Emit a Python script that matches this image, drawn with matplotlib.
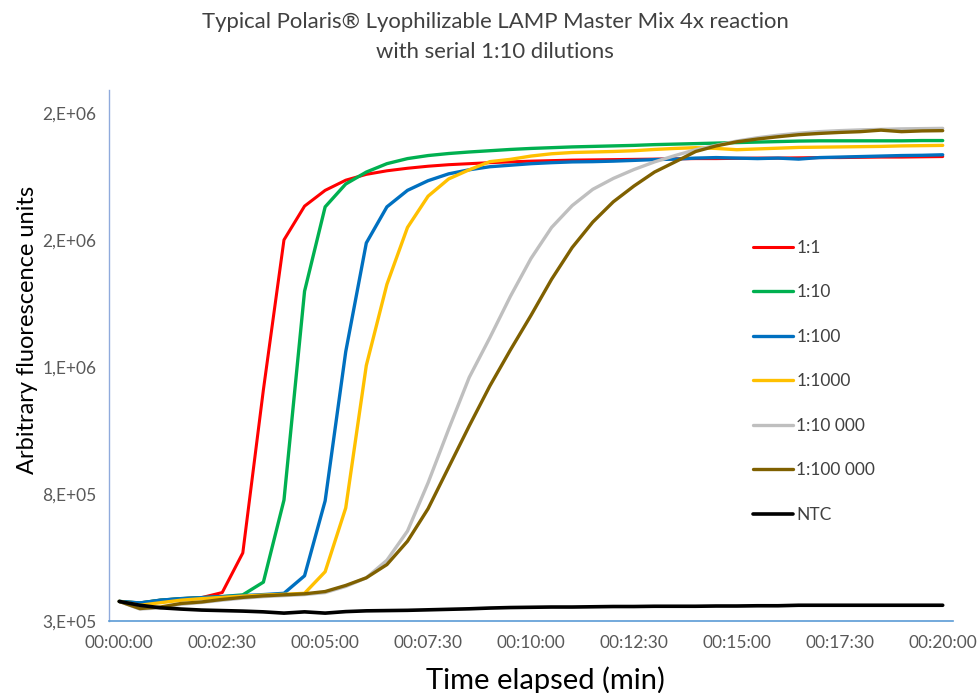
import numpy as np
import matplotlib
matplotlib.use("Agg")
import matplotlib.pyplot as plt

plt.rcParams['font.family'] = ['Lato', 'DejaVu Sans']

# time in minutes (readings every 30 s)
time_min = np.arange(41) * 0.5

series_labels = ["1:1", "1:10", "1:100", "1:1000", "1:10 000", "1:100 000", "NTC"]
series_colors = ["#FF0000", "#00B050", "#0070C0", "#FFC000", "#BFBFBF", "#7F6000", "#000000"]

# fluorescence values, in thousands
red = [377, 371, 382, 388, 392, 412, 568, 1210, 1800, 1933, 1995, 2035, 2058, 2072, 2082,
       2090, 2096, 2100, 2104, 2107, 2110, 2112, 2114, 2115, 2116, 2117, 2118, 2119, 2120,
       2120, 2121, 2122, 2122, 2123, 2124, 2124, 2125, 2126, 2126, 2127, 2128]
green = [377, 371, 382, 388, 392, 396, 403, 453, 776, 1598, 1930, 2020, 2067, 2100, 2120,
         2132, 2140, 2146, 2151, 2156, 2160, 2163, 2166, 2168, 2170, 2172, 2175, 2177, 2179,
         2181, 2183, 2185, 2187, 2189, 2190, 2190, 2190, 2190, 2190, 2191, 2191]
blue = [377, 371, 382, 388, 392, 396, 400, 404, 409, 478, 773, 1360, 1788, 1930, 1995,
        2033, 2060, 2076, 2088, 2094, 2100, 2104, 2107, 2108, 2110, 2113, 2116, 2118, 2122,
        2124, 2122, 2120, 2122, 2118, 2124, 2126, 2128, 2130, 2132, 2133, 2135]
yellow = [377, 362, 372, 382, 388, 393, 398, 402, 405, 409, 494, 745, 1306, 1625, 1849,
          1972, 2040, 2076, 2108, 2117, 2130, 2139, 2144, 2146, 2148, 2151, 2156, 2160, 2163,
          2160, 2155, 2158, 2161, 2164, 2165, 2166, 2167, 2168, 2170, 2171, 2172]
gray = [377, 347, 352, 366, 373, 382, 390, 396, 400, 404, 412, 436, 470, 539, 654,
        844, 1055, 1259, 1415, 1578, 1727, 1849, 1935, 1999, 2042, 2077, 2107, 2132, 2155,
        2172, 2189, 2202, 2212, 2220, 2226, 2230, 2233, 2235, 2237, 2238, 2239]
brown = [377, 349, 355, 369, 375, 385, 393, 399, 403, 407, 416, 440, 470, 522, 614,
         742, 905, 1068, 1225, 1367, 1503, 1645, 1770, 1870, 1950, 2012, 2067, 2107, 2148,
         2170, 2186, 2197, 2206, 2214, 2219, 2223, 2226, 2232, 2226, 2229, 2230]
ntc = [377, 362, 352, 347, 343, 341, 339, 336, 331, 336, 331, 337, 340, 341, 342,
       344, 346, 348, 351, 353, 354, 355, 355, 356, 357, 357, 358, 358, 358, 359,
       359, 360, 360, 362, 362, 362, 362, 362, 362, 362, 362]

y_ticks = [300000, 800000, 1300000, 1800000, 2300000]
y_tick_labels = ["3,E+05", "8,E+05", "1,E+06", "2,E+06", "2,E+06"]
x_ticks = [0, 2.5, 5, 7.5, 10, 12.5, 15, 17.5, 20]
x_tick_labels = ["00:00:00", "00:02:30", "00:05:00", "00:07:30", "00:10:00",
                 "00:12:30", "00:15:00", "00:17:30", "00:20:00"]

W, H = 979, 693
fig = plt.figure(figsize=(W/100, H/100), dpi=100)
ax = fig.add_axes([109/W, 1 - 621/H, (953-109)/W, (621-90)/H])

all_series = [red, green, blue, yellow, gray, brown, ntc]
widths = [2.2, 2.4, 2.4, 2.4, 2.4, 2.4, 2.6]
for vals, lab, col, lw in zip(all_series, series_labels, series_colors, widths):
    ax.plot(time_min, np.array(vals) * 1000, color=col, lw=lw, label=lab,
            solid_joinstyle='round', solid_capstyle='round')

ax.set_xlim(-0.25, 20.25)
ax.set_ylim(300000, 2390000)
ax.set_yticks(y_ticks)
ax.set_yticklabels(y_tick_labels)
ax.set_xticks(x_ticks)
ax.set_xticklabels(x_tick_labels)
ax.tick_params(axis='both', length=0, labelsize=12.5, labelcolor='#595959')
ax.tick_params(axis='y', pad=9)
ax.tick_params(axis='x', pad=10)

for s in ['top', 'right']:
    ax.spines[s].set_visible(False)
ax.spines['left'].set_color('#8FAADC')
ax.spines['bottom'].set_color('#5B9BD5')
ax.spines['left'].set_linewidth(1.0)
ax.spines['bottom'].set_linewidth(1.2)

fig.text(28/W, 1 - 330/H, "Arbitrary fluorescence units", rotation=90,
         ha='center', va='center', fontsize=17, color='#000000')
fig.text(545/W, 1 - 680/H, "Time elapsed (min)",
         ha='center', va='center', fontsize=21, color='#000000')

fig.text(495/W, 1 - 22/H, "Typical Polaris\u00ae Lyophilizable LAMP Master Mix 4x reaction",
         ha='center', va='center', fontsize=15.9, color='#404040')
fig.text(495/W, 1 - 52/H, "with serial 1:10 dilutions",
         ha='center', va='center', fontsize=15.9, color='#404040')

leg = ax.legend(loc='upper left', bbox_to_anchor=(753/W, 1 - 240/H),
                bbox_transform=fig.transFigure, frameon=False, fontsize=12.5,
                handlelength=2.3, handletextpad=0.2, labelspacing=1.64,
                borderaxespad=0, borderpad=0)
for t in leg.get_texts():
    t.set_color('#404040')

fig.savefig("out.png", dpi=100)
